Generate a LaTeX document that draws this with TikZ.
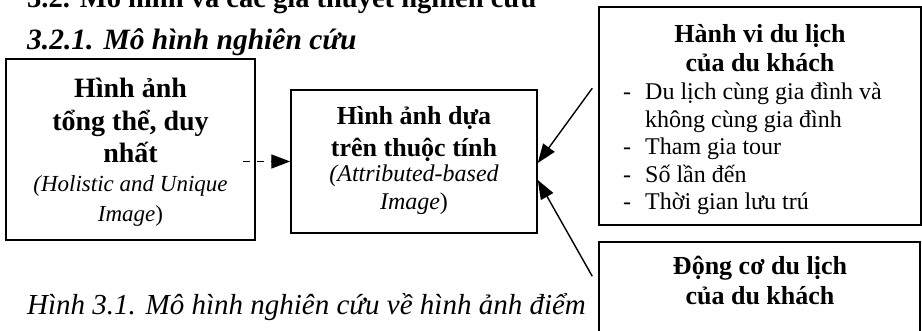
\documentclass[tikz,border=0pt]{standalone}
\usepackage{fontspec}
\setmainfont{Liberation Serif}
\usetikzlibrary{arrows.meta,calc}
\begin{document}
\begin{tikzpicture}[x=1pt,y=-1pt,
  box/.style={draw, line width=1.5pt, fill=white, inner sep=0pt},
  txt/.style={inner sep=0pt, align=center, anchor=base},
  conn/.style={line width=1.4pt, -{Triangle[length=19pt,width=14pt]}}]
\useasboundingbox (0,0) rectangle (922,331);
\clip (0,0) rectangle (922,331);

% headings (the section title runs off the top edge of the page crop)
\node[inner sep=0pt, anchor=base west, font=\fontsize{28.5}{32}\selectfont\bfseries]
  (sec) at (27,8) {3.2.\hspace{10pt}Mô hình và các giả thuyết nghiên cứu};
\node[inner sep=0pt, anchor=base west, font=\fontsize{29.5}{32}\selectfont\bfseries\itshape]
  (sub) at (27,50) {3.2.1.\hspace{10pt}Mô hình nghiên cứu};

% boxes
\node[box, minimum width=249pt, minimum height=181pt] (hol) at (130.5,149.5) {};
\node[box, minimum width=246pt, minimum height=143pt] (attr) at (414,161.5) {};
\node[box, minimum width=322pt, minimum height=218pt] (beh) at (760,116) {};
\node[box, minimum width=321pt, minimum height=118pt] (mot) at (759.5,301) {};

% box texts (anchored at the baseline of their last line)
\node[txt, font=\fontsize{28}{32.5}\selectfont\bfseries] (holt) at (130.5,163)
  {Hình ảnh\\tổng thể, duy\\nhất};
\node[txt, font=\fontsize{23}{30}\selectfont\itshape] (holi) at (130.5,222)
  {(Holistic and Unique\\Image\textup{)}};

\node[txt, font=\fontsize{26}{32}\selectfont\bfseries] (attrt) at (414,157)
  {Hình ảnh dựa\\trên thuộc tính};
\node[txt, font=\fontsize{24}{28}\selectfont\itshape] (attri) at (414,210)
  {(Attributed-based\\Image\textup{)}};

\node[txt, font=\fontsize{26}{29}\selectfont\bfseries] (beht) at (760,72)
  {Hành vi du lịch\\của du khách};
\node[inner sep=0pt, anchor=base west, font=\fontsize{24}{27.5}\selectfont] (behl) at (623,100)
  {\begin{tabular}[t]{@{}p{22pt}@{}l@{}}
   -&Du lịch cùng gia đình và\\
    &không cùng gia đình\\
   -&Tham gia tour\\
   -&Số lần đến\\
   -&Thời gian lưu trú
   \end{tabular}};

\node[txt, font=\fontsize{26}{30}\selectfont\bfseries] (mott) at (760,305)
  {Động cơ du lịch\\của du khách};

% caption
\node[inner sep=0pt, anchor=base west, font=\fontsize{29}{32}\selectfont\itshape]
  (cap) at (27,315) {Hình 3.1. Mô hình nghiên cứu về hình ảnh điểm};

% connectors
\draw[conn, dash pattern=on 7pt off 7pt] ($(hol.east |- attr.west)+(-13pt,0pt)$) -- (attr.west);
\draw[conn] ($(beh.north west)+(-6pt,-82pt)$) -- ($(attr.east)+(0pt,-1.5pt)$);
\draw[conn] ($(mot.north west)+(-6pt,-35pt)$) -- ($(attr.east)+(0pt,-18.5pt)$);
\end{tikzpicture}
\end{document}
